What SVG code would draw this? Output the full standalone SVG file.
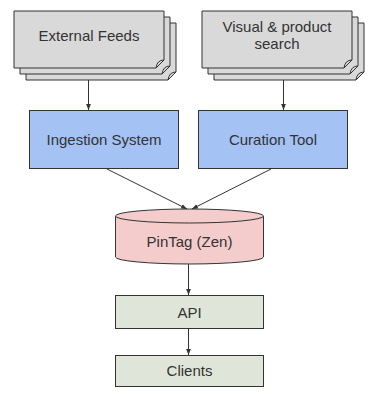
<svg xmlns="http://www.w3.org/2000/svg" width="372" height="395" viewBox="0 0 372 395">
  <defs>
    <marker id="arrow" viewBox="0 0 10 10" refX="10" refY="5" markerWidth="6" markerHeight="6" orient="auto-start-reverse" markerUnits="userSpaceOnUse">
      <path d="M0,1 L10,5 L0,9 z" fill="#333"/>
    </marker>
    <!-- document sheet with a curled bottom-right corner, 150 x 57 -->
    <g id="sheet">
      <path d="M0,0 H150 V49 L142,57 H0 Z" fill="#d9d9d9" stroke="#333" stroke-width="1"/>
      <path d="M150,49 Q143,49 142,57" fill="none" stroke="#333" stroke-width="1"/>
    </g>
  </defs>
  <style>
    text { font-family: "Liberation Sans", Arial, sans-serif; font-size: 15px; fill: #333; text-anchor: middle; }
    .edge { stroke: #333; stroke-width: 1; fill: none; }
  </style>
  <rect width="372" height="395" fill="#ffffff"/>

  <g id="external-feeds">
    <use href="#sheet" x="26" y="23"/>
    <use href="#sheet" x="20" y="17"/>
    <use href="#sheet" x="14" y="11"/>
    <text x="89" y="41">External Feeds</text>
  </g>

  <g id="visual-search">
    <use href="#sheet" x="214" y="23"/>
    <use href="#sheet" x="208" y="17"/>
    <use href="#sheet" x="202" y="11"/>
    <text x="277" y="32">Visual &amp; product</text>
    <text x="277" y="49">search</text>
  </g>

  <g id="ingestion-system">
    <rect x="29.5" y="110.5" width="149" height="58" fill="#a4c2f4" stroke="#333"/>
    <text x="104" y="145">Ingestion System</text>
  </g>

  <g id="curation-tool">
    <rect x="198.5" y="110.5" width="149" height="58" fill="#a4c2f4" stroke="#333"/>
    <text x="273" y="145">Curation Tool</text>
  </g>

  <g id="pintag">
    <path d="M115.5,216 V257 A74,7 0 0 0 263.5,257 V216" fill="#f4cccc" stroke="#333"/>
    <ellipse cx="189.5" cy="216" rx="74" ry="7" fill="#f4cccc" stroke="#333"/>
    <text x="189.5" y="247">PinTag (Zen)</text>
  </g>

  <g id="api">
    <rect x="115.5" y="295.5" width="148" height="33" fill="#dfe5d9" stroke="#333"/>
    <text x="189.5" y="318">API</text>
  </g>

  <g id="clients">
    <rect x="115.5" y="355.5" width="148" height="31" fill="#dfe5d9" stroke="#333"/>
    <text x="189.5" y="376">Clients</text>
  </g>

  <g id="connectors">
    <line class="edge" x1="88.5" y1="80" x2="88.5" y2="110" marker-end="url(#arrow)"/>
    <line class="edge" x1="283.5" y1="80" x2="283.5" y2="110" marker-end="url(#arrow)"/>
    <line class="edge" x1="107" y1="169" x2="187" y2="209" marker-end="url(#arrow)"/>
    <line class="edge" x1="271" y1="169" x2="192" y2="209" marker-end="url(#arrow)"/>
    <line class="edge" x1="188.5" y1="264" x2="188.5" y2="295" marker-end="url(#arrow)"/>
    <line class="edge" x1="188.5" y1="329" x2="188.5" y2="355" marker-end="url(#arrow)"/>
  </g>
</svg>
